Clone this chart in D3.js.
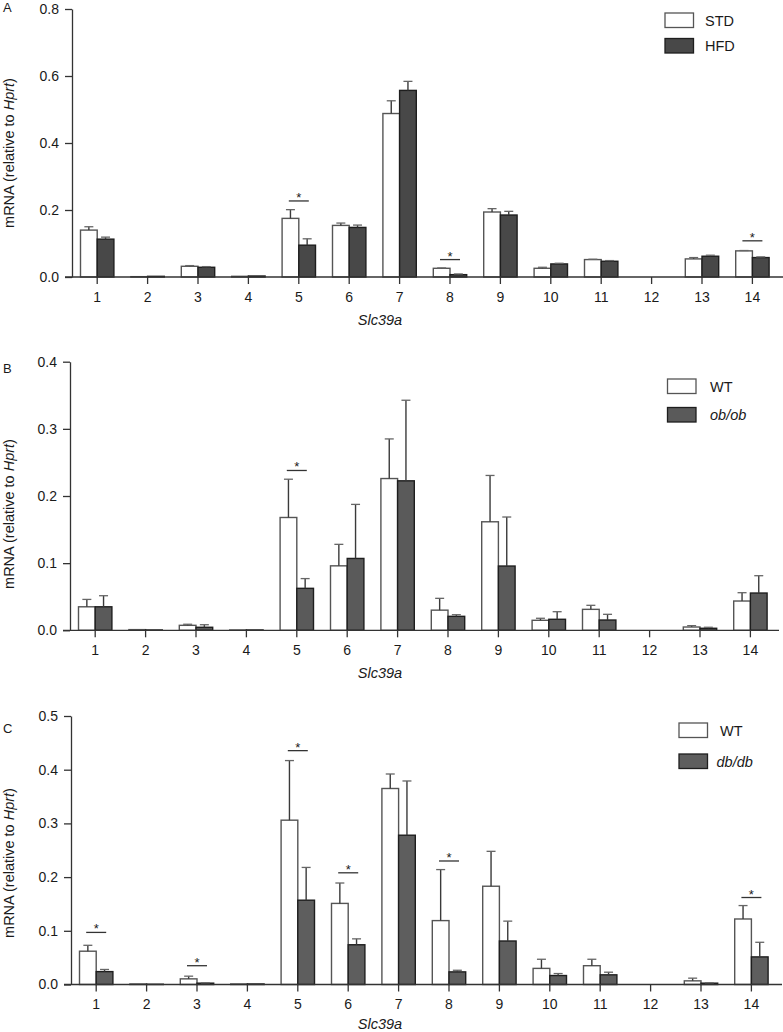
<!DOCTYPE html>
<html>
<head>
<meta charset="utf-8">
<script src="https://cdn.jsdelivr.net/npm/d3@7"></script>
<style>
body { margin: 0; background: #fff; }
svg text { font-family: "Liberation Sans", Arial, sans-serif; fill: #1a1a1a; }
</style>
</head>
<body>
<svg id="chart" width="783" height="1032"></svg>
<script>
// Slc39a genes on the x axis
var genes = ["1", "2", "3", "4", "5", "6", "7", "8", "9", "10", "11", "12", "13", "14"];

// panel A: STD vs HFD
var stdMean = [0.140, 0.001, 0.032, 0.002, 0.175, 0.154, 0.488, 0.026, 0.194, 0.026, 0.052, 0, 0.054, 0.078];
var stdErr  = [0.010, 0, 0.002, 0, 0.026, 0.007, 0.038, 0.001, 0.010, 0.003, 0.001, 0, 0.004, 0.001];
var hfdMean = [0.113, 0.002, 0.029, 0.003, 0.095, 0.148, 0.557, 0.007, 0.185, 0.039, 0.047, 0, 0.062, 0.058];
var hfdErr  = [0.006, 0, 0.002, 0, 0.019, 0.007, 0.027, 0.002, 0.011, 0.002, 0.002, 0, 0.003, 0.002];
var sigA = [{gene: "5", y: 0.227}, {gene: "8", y: 0.052}, {gene: "14", y: 0.108}];
var ticksA = [0, 0.2, 0.4, 0.6, 0.8];

// panel B: WT vs ob/ob
var wtObMean = [0.035, 0.001, 0.0074, 0.0005, 0.168, 0.096, 0.226, 0.030, 0.1616, 0.0149, 0.0312, 0, 0.0049, 0.0436];
var wtObErr  = [0.011, 0, 0.0016, 0, 0.057, 0.032, 0.059, 0.0176, 0.069, 0.003, 0.006, 0, 0.002, 0.0124];
var obMean   = [0.035, 0.0005, 0.0045, 0.0005, 0.0625, 0.107, 0.2226, 0.0208, 0.0957, 0.0164, 0.0153, 0, 0.003, 0.0555];
var obErr    = [0.0165, 0, 0.0038, 0, 0.0145, 0.0805, 0.12, 0.0024, 0.073, 0.0113, 0.0085, 0, 0.0015, 0.0258];
var sigB = [{gene: "5", y: 0.238}];
var ticksB = [0, 0.1, 0.2, 0.3, 0.4];

// panel C: WT vs db/db
var wtDbMean = [0.062, 0.001, 0.0105, 0.001, 0.306, 0.151, 0.365, 0.119, 0.183, 0.030, 0.035, 0, 0.0068, 0.122];
var wtDbErr  = [0.011, 0, 0.005, 0, 0.111, 0.038, 0.027, 0.095, 0.065, 0.017, 0.012, 0, 0.005, 0.025];
var dbMean   = [0.024, 0.0005, 0.0025, 0.001, 0.157, 0.074, 0.278, 0.0235, 0.081, 0.0167, 0.018, 0, 0.0025, 0.0514];
var dbErr    = [0.004, 0, 0.0005, 0, 0.061, 0.011, 0.101, 0.003, 0.037, 0.0037, 0.0049, 0, 0.0005, 0.0272];
var sigC = [{gene: "1", y: 0.097}, {gene: "3", y: 0.035}, {gene: "5", y: 0.4355}, {gene: "6", y: 0.208}, {gene: "8", y: 0.230}, {gene: "14", y: 0.162}];
var ticksC = [0, 0.1, 0.2, 0.3, 0.4, 0.5];

var svg = d3.select("#chart");
var STEP = 50.4, BAR_W = 16.7;

function drawPanel(p) {
	var x = d3.scaleBand().domain(genes).range([p.left, p.left + STEP * genes.length]);
	var y = d3.scaleLinear().domain([0, p.yMax]).range([p.bottom, p.top]);
	var g = svg.append("g").attr("class", "panel");

	// bars: control on the left, treatment on the right of each gene
	var series = [
		{mean: p.ctrl, err: p.ctrlErr, fill: "#fff", stroke: "#555", off: -BAR_W},
		{mean: p.treat, err: p.treatErr, fill: p.dark, stroke: "#1e1e1e", off: 0}
	];
	series.forEach(function(s) {
		var data = genes.map(function(gn, i) { return {gene: gn, v: s.mean[i], e: s.err[i]}; });
		var cx = function(d) { return x(d.gene) + x.bandwidth() / 2 + s.off + BAR_W / 2; };

		g.append("g").selectAll("rect").data(data.filter(function(d) { return d.v > 0; }))
			.enter().append("rect")
			.attr("x", function(d) { return cx(d) - BAR_W / 2; })
			.attr("y", function(d) { return y(d.v); })
			.attr("width", BAR_W)
			.attr("height", function(d) { return y(0) - y(d.v); })
			.attr("fill", s.fill).attr("stroke", s.stroke).attr("stroke-width", 1.4);

		var eb = g.append("g").selectAll("g").data(data.filter(function(d) { return d.e > 0; }))
			.enter().append("g");
		eb.append("line")
			.attr("x1", cx).attr("x2", cx)
			.attr("y1", function(d) { return y(d.v); })
			.attr("y2", function(d) { return y(d.v + d.e); })
			.attr("stroke", "#3a3a3a").attr("stroke-width", 1.4);
		eb.append("line")
			.attr("x1", function(d) { return cx(d) - 4.5; })
			.attr("x2", function(d) { return cx(d) + 4.5; })
			.attr("y1", function(d) { return y(d.v + d.e); })
			.attr("y2", function(d) { return y(d.v + d.e); })
			.attr("stroke", "#666").attr("stroke-width", 1.3);
	});

	// y axis
	var ya = g.append("g").attr("transform", "translate(" + p.left + ",0)")
		.call(d3.axisLeft(y).tickValues(p.ticks).tickSize(7).tickPadding(6)
			.tickSizeOuter(0).tickFormat(d3.format(".1f")));
	ya.selectAll("text").attr("font-size", 14).attr("fill", "#1a1a1a");
	ya.selectAll("line, path").attr("stroke", "#333").attr("stroke-width", 1.3);

	// x axis, baseline runs a little past the last gene
	var xa = g.append("g").attr("transform", "translate(0," + p.bottom + ")")
		.call(d3.axisBottom(x).tickSize(7).tickPadding(8).tickSizeOuter(0));
	xa.select("path.domain").remove();
	xa.selectAll("text").attr("font-size", 14).attr("fill", "#1a1a1a");
	xa.selectAll("line").attr("stroke", "#333").attr("stroke-width", 1.3);
	xa.append("line").attr("x1", p.left - 7).attr("x2", p.axisEnd)
		.attr("y1", 0).attr("y2", 0)
		.attr("stroke", "#333").attr("stroke-width", 1.3);

	// significance marks
	var sg = g.append("g").selectAll("g").data(p.sig).enter().append("g");
	sg.append("line")
		.attr("x1", function(d) { return x(d.gene) + x.bandwidth() / 2 - 10; })
		.attr("x2", function(d) { return x(d.gene) + x.bandwidth() / 2 + 10; })
		.attr("y1", function(d) { return y(d.y); })
		.attr("y2", function(d) { return y(d.y); })
		.attr("stroke", "#333").attr("stroke-width", 1.3);
	sg.append("text")
		.attr("x", function(d) { return x(d.gene) + x.bandwidth() / 2; })
		.attr("y", function(d) { return y(d.y) + 1; })
		.attr("text-anchor", "middle").attr("font-size", 13)
		.text("*");

	// labels
	g.append("text").attr("x", 3).attr("y", p.letterY).attr("font-size", 13).text(p.letter);

	var yl = g.append("text")
		.attr("transform", "translate(13.5," + p.yLabelY + ") rotate(-90)")
		.attr("text-anchor", "middle").attr("font-size", 14.5);
	yl.append("tspan").text("mRNA (relative to ");
	yl.append("tspan").attr("font-style", "italic").text("Hprt");
	yl.append("tspan").text(")");

	g.append("text").attr("x", 380).attr("y", p.bottom + p.xLabelDy)
		.attr("text-anchor", "middle").attr("font-size", 14.5)
		.attr("font-style", "italic").text("Slc39a");

	// legend
	var lg = g.append("g");
	[{fill: "#fff", stroke: "#555", y: p.legY[0], name: p.names[0], it: false, tx: p.legTx[0]},
	 {fill: p.dark, stroke: "#1e1e1e", y: p.legY[1], name: p.names[1], it: p.italic, tx: p.legTx[1]}]
	.forEach(function(it) {
		lg.append("rect").attr("x", p.legX).attr("y", it.y).attr("width", 28.5).attr("height", 14.5)
			.attr("fill", it.fill).attr("stroke", it.stroke).attr("stroke-width", 1.3);
		lg.append("text").attr("x", it.tx).attr("y", it.y + 12.5)
			.attr("font-size", 14.5).attr("font-style", it.it ? "italic" : "normal")
			.text(it.name);
	});
}

drawPanel({letter: "A", letterY: 12, left: 72, top: 9, bottom: 277, axisEnd: 783, yMax: 0.8, ticks: ticksA,
	ctrl: stdMean, ctrlErr: stdErr, treat: hfdMean, treatErr: hfdErr, dark: "#484848",
	sig: sigA, names: ["STD", "HFD"], italic: false, xLabelDy: 48,
	legX: 665, legY: [13, 38.5], legTx: [705, 705], yLabelY: 153});

drawPanel({letter: "B", letterY: 373, left: 70, top: 361.7, bottom: 630.3, axisEnd: 779, yMax: 0.4, ticks: ticksB,
	ctrl: wtObMean, ctrlErr: wtObErr, treat: obMean, treatErr: obErr, dark: "#5a5a5a",
	sig: sigB, names: ["WT", "ob/ob"], italic: true, xLabelDy: 48,
	legX: 667.5, legY: [379, 407.5], legTx: [710, 710], yLabelY: 514});

drawPanel({letter: "C", letterY: 733, left: 71, top: 716, bottom: 984.5, axisEnd: 782, yMax: 0.5, ticks: ticksC,
	ctrl: wtDbMean, ctrlErr: wtDbErr, treat: dbMean, treatErr: dbErr, dark: "#5e5e5e",
	sig: sigC, names: ["WT", "db/db"], italic: true, xLabelDy: 44,
	legX: 679, legY: [723, 754], legTx: [720, 716.5], yLabelY: 863});
</script>
</body>
</html>
